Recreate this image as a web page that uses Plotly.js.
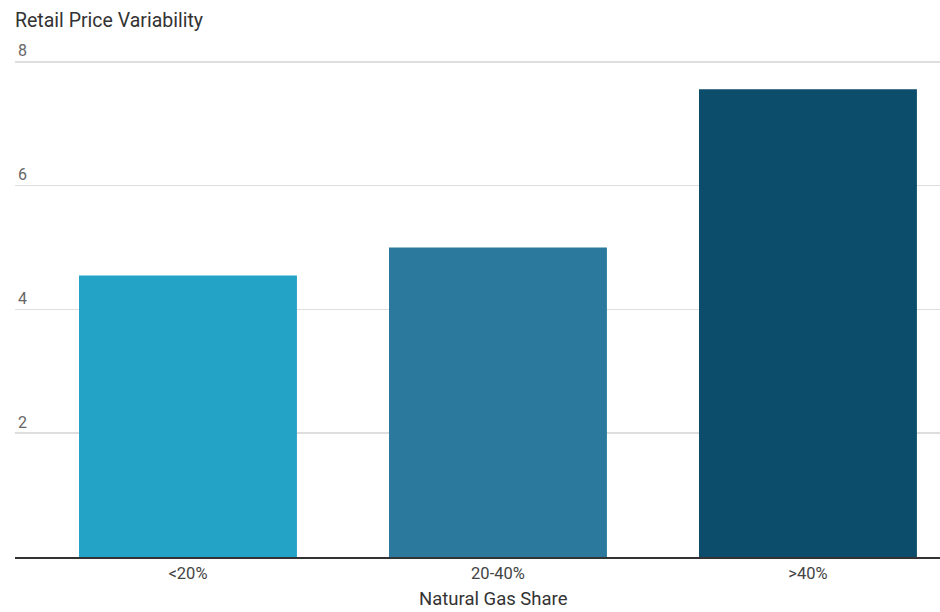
<!DOCTYPE html>
<html>
<head>
<meta charset="utf-8">
<script src="https://cdn.plot.ly/plotly-3.0.1.min.js"></script>
<style>
  html, body { margin: 0; padding: 0; background: #fff; }
  #chart { width: 940px; height: 612px; }
</style>
</head>
<body>
<div id="chart"></div>
<script>
// Retail price variability by natural gas share of generation
const categories = ['<20%', '20-40%', '>40%'];
const variability = [4.55, 5.0, 7.56];
const barColors = ['#23a3c6', '#2b7a9e', '#0b4d6b'];
const yTicks = [2, 4, 6, 8];

const trace = {
  type: 'bar',
  x: [0, 1, 2],
  y: variability,
  width: 0.703,
  marker: { color: barColors, line: { width: 0 } },
  hoverinfo: 'skip'
};

// y range runs a little past 8 so the top label sits inside the plot
const yMax = 8.5;
const pxPerUnit = 61.9;
const marginTop = 62 - (yMax - 8) * pxPerUnit;
const marginBottom = 55;
const plotHeight = 612 - marginTop - marginBottom;

const layout = {
  width: 940,
  height: 612,
  margin: { l: 15, r: 0, t: marginTop, b: marginBottom },
  paper_bgcolor: '#ffffff',
  plot_bgcolor: '#ffffff',
  showlegend: false,
  font: { family: 'Roboto, sans-serif', color: '#333' },
  title: {
    text: 'Retail Price Variability',
    xref: 'container', yref: 'container',
    x: 15 / 940, xanchor: 'left',
    y: 1 - 20 / 612, yanchor: 'middle',
    font: { size: 19.5, color: '#333', family: 'Roboto, sans-serif' }
  },
  xaxis: {
    range: [-0.558, 2.426],
    tickvals: [0, 1, 2],
    ticktext: categories,
    showgrid: false,
    zeroline: false,
    showline: true,
    linecolor: '#333',
    linewidth: 1.5,
    ticks: '',
    ticklabelstandoff: 1,
    tickfont: { size: 16.5, color: '#444' }
  },
  yaxis: {
    range: [0, yMax],
    tickvals: yTicks,
    ticktext: yTicks.map(String),
    showgrid: true,
    gridcolor: '#dedede',
    gridwidth: 1.5,
    zeroline: false,
    showline: false,
    ticks: '',
    ticklabelposition: 'inside top',
    tickfont: { size: 16, color: '#666' }
  },
  annotations: [{
    text: 'Natural Gas Share',
    xref: 'paper', yref: 'paper',
    x: (493 - 15) / 925, xanchor: 'center',
    y: -(611 - 557) / plotHeight, yanchor: 'bottom',
    showarrow: false,
    borderpad: 0,
    font: { size: 18.5, color: '#333', family: 'Roboto, sans-serif' }
  }],
  bargap: 0.3
};

Plotly.newPlot('chart', [trace], layout, { displayModeBar: false, staticPlot: true });
</script>
</body>
</html>
